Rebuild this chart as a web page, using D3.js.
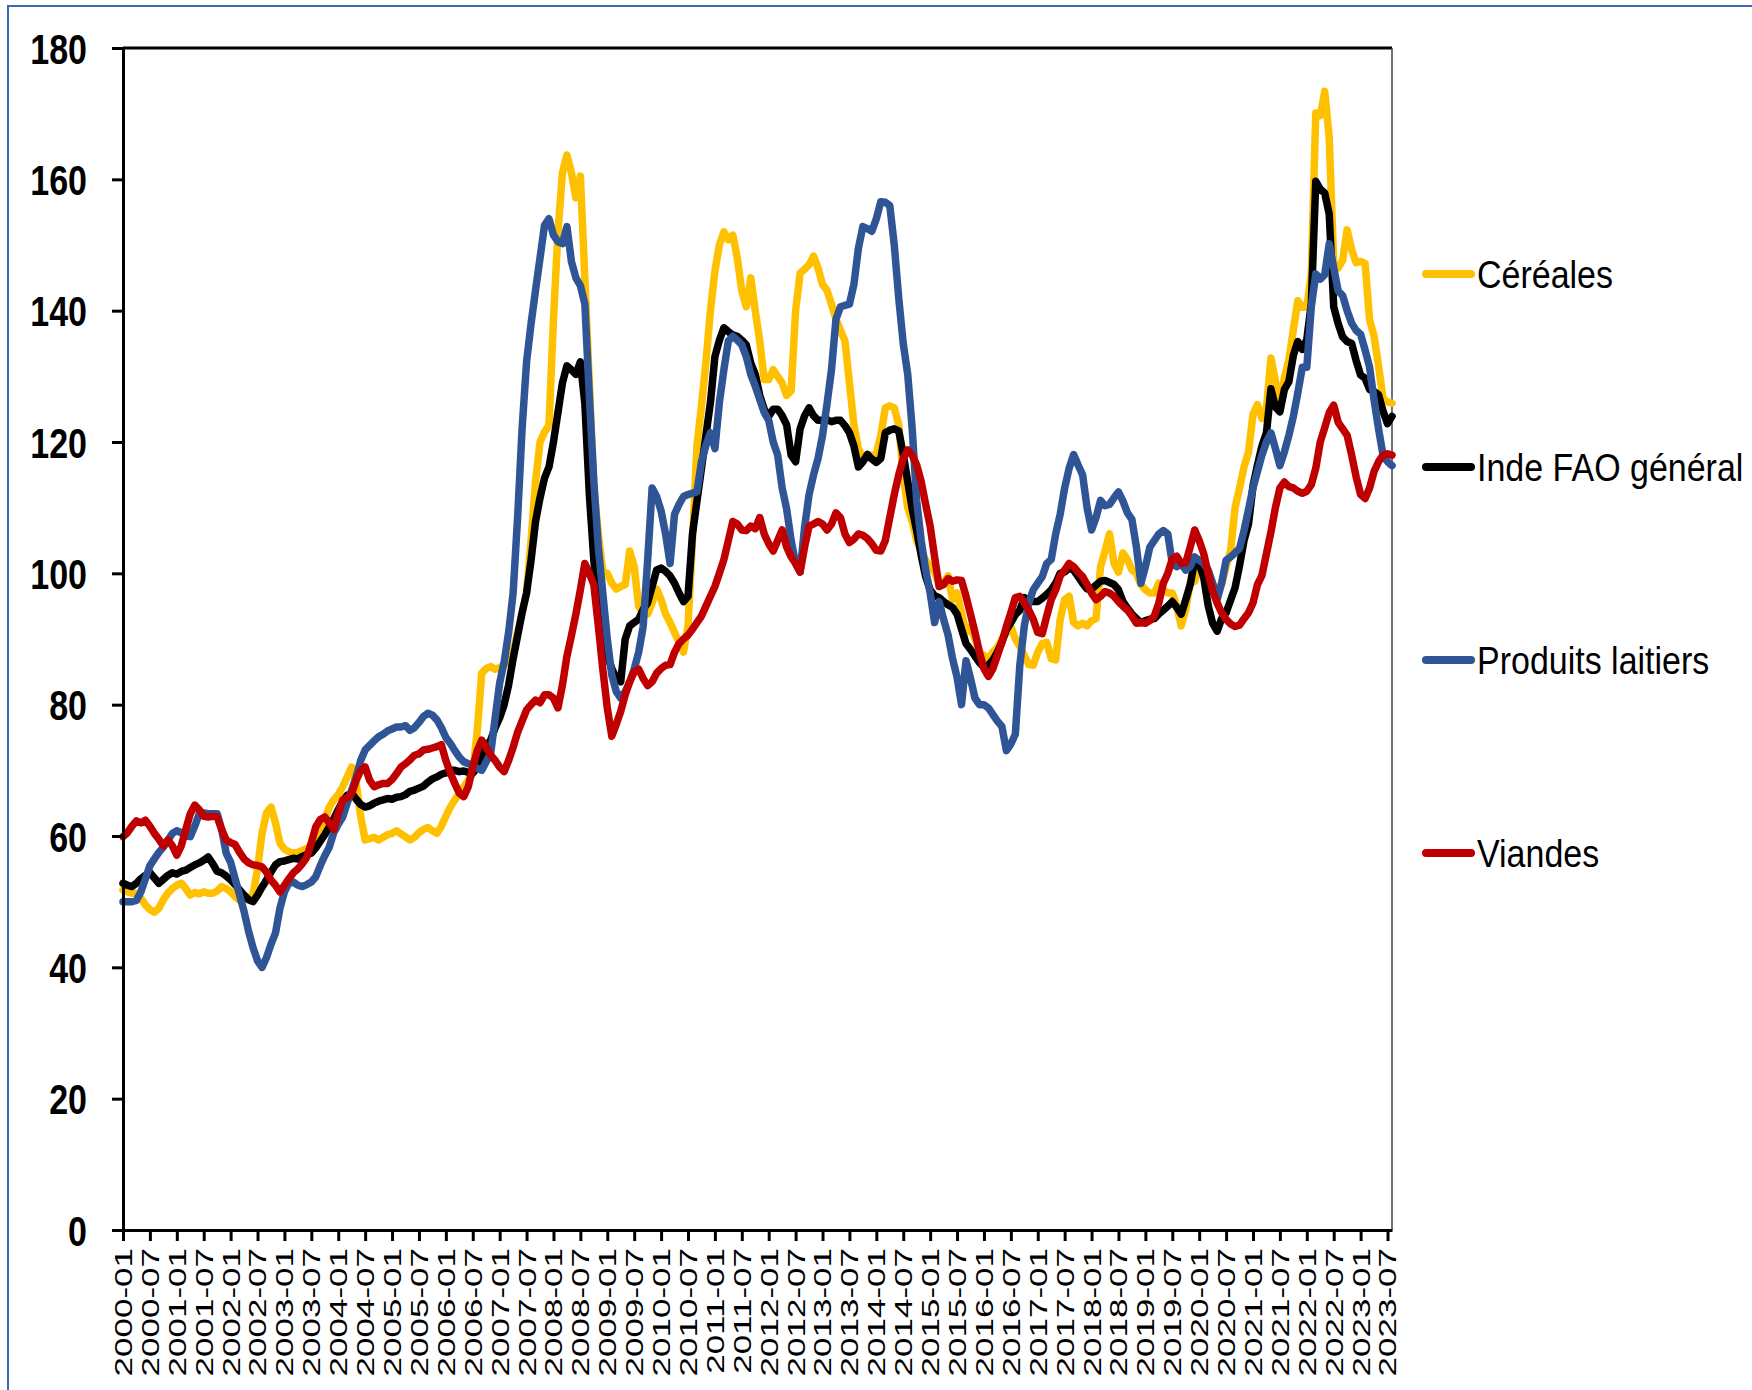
<!DOCTYPE html>
<html lang="fr">
<head>
<meta charset="utf-8">
<title>Indices FAO des prix alimentaires</title>
<script src="https://cdn.jsdelivr.net/npm/d3@7"></script>
<style>
  html, body { margin: 0; padding: 0; background: #fff; }
  svg { display: block; }
  text { font-family: "Liberation Sans", Arial, sans-serif; }
</style>
</head>
<body>
<div id="chart"></div>
<script>
// categories : mois de 2000-01 a 2023-08
var mois = [];
for (var a = 2000; a <= 2023; a++) {
  for (var m = 1; m <= 12; m++) {
    if (a === 2023 && m > 8) break;
    mois.push(a + "-" + (m < 10 ? "0" + m : m));
  }
}
// une etiquette tous les six mois
var etiquettesX = mois.filter(function(d, i) { return i % 6 === 0; });
var graduationsY = [0, 20, 40, 60, 80, 100, 120, 140, 160, 180];

// series (une ligne par annee)
var cereales = [
  51.8, 51.5, 51.3, 51.3, 50.5, 49.5, 48.8, 48.4, 49.0, 50.3, 51.3, 52.0,
  52.5, 52.8, 52.0, 51.0, 51.4, 51.2, 51.5, 51.3, 51.3, 51.6, 52.3, 52.0,
  51.5, 50.8, 50.2, 50.3, 50.6, 51.0, 55.0, 60.4, 63.5, 64.4, 62.0, 58.9,
  58.0, 57.6, 57.4, 57.5, 57.8, 58.1, 58.3, 59.5, 61.0, 62.5, 64.4, 65.5,
  66.3, 67.5, 69.0, 70.5, 68.0, 63.0, 59.4, 59.6, 59.8, 59.4, 59.8, 60.2,
  60.4, 60.8, 60.3, 59.9, 59.4, 59.8, 60.5, 61.0, 61.3, 60.8, 60.4, 61.5,
  63.0, 64.4, 65.5, 66.5, 67.5, 68.5, 69.6, 76.0, 84.8, 85.5, 85.8, 85.4,
  85.6, 86.1, 86.5, 88.0, 91.0, 94.0, 97.0, 105.0, 114.0, 120.0, 121.5, 122.6,
  138.7, 152.0, 161.0, 163.7, 161.0, 157.2, 160.5, 145.0, 129.0, 113.0, 106.0, 100.2,
  100.0, 98.5, 97.6, 98.0, 98.3, 103.4, 101.0, 95.0, 93.8, 93.8, 95.5, 97.6,
  96.0, 93.8, 92.5, 91.0, 89.5, 88.0, 92.0, 105.0, 119.4, 125.5, 132.2, 140.0,
  146.0, 150.0, 152.0, 150.8, 151.5, 148.0, 143.0, 140.6, 145.0, 140.0, 135.4, 129.5,
  129.5, 131.0, 130.0, 129.0, 127.1, 127.8, 140.0, 145.7, 146.3, 147.0, 148.3, 146.5,
  144.0, 143.1, 141.0, 138.7, 137.0, 135.4, 129.0, 122.6, 119.0, 117.5, 117.8, 118.0,
  118.1, 121.0, 125.2, 125.5, 125.2, 122.6, 115.0, 110.0, 107.9, 105.0, 103.4, 102.0,
  101.0, 100.2, 98.3, 98.5, 99.6, 96.0, 97.0, 94.0, 91.0, 91.9, 90.0, 88.0,
  87.5, 87.0, 88.0, 88.7, 90.0, 90.9, 91.9, 90.0, 88.9, 87.5, 86.1, 86.0,
  88.0, 89.3, 89.5, 87.0, 86.8, 93.0, 96.0, 96.5, 92.5, 92.0, 92.4, 92.0,
  92.8, 93.1, 101.0, 103.4, 106.0, 101.5, 100.2, 103.1, 102.1, 100.5, 100.0, 98.3,
  97.5, 97.0, 97.0, 98.5, 97.5, 97.0, 97.0, 95.0, 92.0, 94.5, 98.5, 98.8,
  101.0, 99.6, 98.5, 98.3, 97.5, 98.3, 101.0, 103.4, 110.0, 113.0, 116.2, 118.5,
  124.2, 125.7, 123.6, 125.1, 132.8, 129.3, 125.5, 129.8, 132.5, 137.1, 141.5, 140.5,
  140.6, 145.5, 170.1, 169.7, 173.4, 166.3, 147.3, 146.5, 147.7, 152.3, 149.3, 147.3,
  147.5, 147.2, 138.6, 136.1, 131.6, 126.6, 126.1, 125.9
];

var indiceGeneral = [
  52.8, 52.5, 52.3, 52.8, 53.5, 54.0, 54.4, 53.6, 52.8, 53.4, 54.0, 54.4,
  54.2, 54.6, 54.8, 55.2, 55.6, 55.9, 56.3, 56.8, 55.8, 54.6, 54.4, 53.9,
  53.3, 52.6, 51.8, 51.0, 50.3, 50.0, 51.0, 52.2, 53.3, 54.5, 55.6, 56.1,
  56.2, 56.4, 56.6, 56.5, 56.9, 57.2, 57.4, 58.2, 59.2, 60.2, 61.4, 62.6,
  64.0, 65.3, 66.2, 66.5, 65.6, 64.8, 64.4, 64.6, 65.0, 65.3, 65.5, 65.7,
  65.6, 65.9, 66.0, 66.3, 66.8, 67.0, 67.3, 67.6, 68.2, 68.7, 69.0, 69.4,
  69.6, 70.0, 70.0, 69.8, 69.9, 69.7, 69.6, 70.4, 72.0, 73.6, 74.6, 76.5,
  78.0, 80.0, 83.0, 87.0, 90.5, 94.0, 97.0, 102.0, 107.9, 111.5, 114.5, 116.2,
  120.0, 124.5, 129.0, 131.6, 131.0, 130.3, 132.2, 125.8, 112.0, 102.0, 94.5, 90.0,
  87.5, 85.5, 84.0, 83.5, 90.0, 92.0, 92.5, 93.0, 94.5, 95.5, 98.0, 100.5,
  100.8, 100.3, 99.6, 98.5, 97.0, 95.7, 96.5, 106.0, 111.0, 116.0, 121.0, 126.0,
  133.0, 135.5, 137.4, 136.8, 136.3, 136.1, 135.5, 134.8, 132.0, 130.3, 127.1, 125.0,
  123.9, 125.0, 125.0, 124.0, 122.6, 118.0, 117.0, 122.0, 124.0, 125.2, 124.0, 123.3,
  123.3, 123.4, 123.1, 123.3, 123.3, 122.5, 121.4, 119.4, 116.2, 117.0, 118.1, 117.4,
  116.9, 117.5, 121.4, 121.8, 122.0, 121.7, 118.1, 114.0, 109.8, 106.5, 102.8, 99.5,
  97.5, 96.6, 96.3, 95.7, 95.2, 94.8, 93.8, 91.5, 89.3, 88.4, 87.4, 86.4,
  85.7, 86.0, 86.8, 88.0, 89.5, 91.4, 92.5, 93.7, 94.4, 96.3, 96.0, 95.7,
  95.7, 96.2, 96.8, 97.5, 98.5, 100.0, 100.2, 100.8, 100.5, 99.5, 98.5, 97.6,
  97.6, 98.2, 98.8, 98.9, 98.6, 98.3, 97.5, 95.7, 94.7, 93.8, 93.1, 92.5,
  92.8, 93.0, 93.1, 93.8, 94.4, 95.0, 95.7, 94.8, 93.8, 96.0, 98.3, 102.0,
  101.5, 99.4, 95.1, 92.4, 91.2, 93.1, 94.0, 95.9, 97.8, 101.2, 105.0, 107.5,
  113.3, 116.5, 119.4, 121.4, 128.1, 125.3, 124.6, 128.0, 129.2, 133.2, 135.3, 134.1,
  135.6, 141.1, 159.7, 158.5, 157.9, 154.7, 140.6, 138.0, 136.0, 135.3, 135.0, 132.4,
  130.2, 129.7, 128.0, 127.7, 127.2, 124.7, 122.8, 123.9
];

var laitiers = [
  50.0, 50.0, 50.0, 50.2, 51.5, 53.5, 55.5, 56.5, 57.5, 58.3, 59.3, 60.4,
  60.8, 60.5, 60.0, 59.9, 61.5, 63.4, 63.5, 63.4, 63.4, 63.4, 61.0, 57.4,
  56.0, 53.5, 51.0, 48.5, 45.5, 43.0, 41.0, 40.0, 41.5, 43.5, 45.2, 49.0,
  51.5, 52.8, 53.0, 52.5, 52.3, 52.6, 53.0, 53.8, 55.5, 57.0, 58.3, 60.5,
  61.8, 62.9, 65.0, 67.0, 69.0, 71.5, 73.1, 73.8, 74.5, 75.1, 75.5, 76.0,
  76.3, 76.6, 76.6, 76.8, 76.1, 76.5, 77.3, 78.2, 78.7, 78.4, 77.7, 76.5,
  75.0, 74.1, 73.0, 72.0, 71.3, 71.0, 70.8, 70.3, 70.0, 71.3, 72.6, 78.0,
  83.3, 86.5, 91.0, 97.0, 108.5, 122.0, 132.2, 138.0, 143.1, 148.0, 153.0, 154.0,
  151.5, 150.5, 150.2, 152.8, 147.5, 145.0, 143.8, 141.0, 127.0, 114.0, 104.0, 97.0,
  90.0, 84.5, 82.0, 81.0, 82.0, 83.5, 85.4, 88.0, 91.9, 102.0, 113.0, 111.7,
  109.5, 106.0, 101.5, 109.0, 110.5, 111.7, 112.0, 112.2, 112.4, 117.0, 119.5, 121.4,
  119.0, 126.0, 131.0, 135.4, 136.1, 135.5, 134.8, 133.0, 130.3, 128.5, 126.5, 124.5,
  123.3, 120.0, 118.0, 113.0, 109.8, 105.0, 101.5, 100.2, 107.0, 112.0, 115.0, 117.5,
  121.0, 125.8, 131.0, 138.7, 140.6, 140.8, 141.0, 144.0, 149.5, 152.8, 152.5, 152.1,
  154.0, 156.6, 156.5, 156.0, 150.0, 141.9, 135.0, 130.3, 122.0, 111.0, 105.0, 100.5,
  97.0, 92.5, 95.7, 93.0, 90.6, 87.0, 84.2, 80.0, 86.7, 84.0, 81.0, 80.0,
  80.0, 79.5, 78.5, 77.5, 76.7, 73.0, 74.0, 75.5, 86.0, 92.0, 95.5, 97.5,
  98.5, 99.5, 101.5, 102.1, 106.0, 109.0, 113.0, 116.0, 118.1, 116.5, 115.0, 110.0,
  106.6, 108.5, 111.1, 110.3, 110.5, 111.5, 112.4, 111.0, 109.2, 108.2, 104.0, 98.5,
  101.0, 104.0, 105.0, 106.0, 106.5, 106.0, 101.5, 101.0, 101.5, 100.5, 101.0, 102.5,
  102.0, 101.5, 100.5, 98.5, 96.0, 98.5, 102.0, 102.5, 103.1, 103.8, 106.5, 109.7,
  113.0, 115.5, 118.0, 120.0, 121.4, 119.0, 116.4, 118.5, 121.0, 123.9, 127.5, 131.4,
  131.4, 140.6, 145.6, 144.8, 145.5, 150.2, 146.5, 143.0, 142.3, 140.0, 138.1, 137.0,
  136.4, 134.0, 131.4, 126.4, 122.0, 118.0, 117.0, 116.4
];

var viandes = [
  59.9, 60.5, 61.5, 62.3, 62.0, 62.4, 61.5, 60.4, 59.5, 58.5, 59.4, 58.5,
  57.1, 58.5, 61.0, 63.4, 64.7, 64.0, 63.0, 62.9, 63.0, 62.9, 61.0, 59.4,
  59.0, 58.7, 57.5, 56.5, 55.9, 55.6, 55.5, 55.3, 54.5, 53.3, 52.5, 51.5,
  52.5, 53.5, 54.4, 55.0, 55.8, 56.8, 59.0, 61.4, 62.5, 62.9, 62.0, 61.0,
  63.5, 65.5, 65.8, 66.5, 68.5, 70.0, 70.5, 68.5, 67.5, 67.8, 68.0, 68.0,
  68.6, 69.5, 70.5, 71.0, 71.6, 72.3, 72.5, 73.1, 73.2, 73.4, 73.6, 73.9,
  71.5, 69.6, 68.0, 66.5, 66.0, 67.5, 70.5, 73.0, 74.6, 73.5, 72.3, 71.5,
  70.5, 69.8, 71.5, 73.5, 75.8, 77.5, 79.2, 80.0, 80.7, 80.3, 81.5, 81.5,
  81.0, 79.5, 83.0, 87.4, 90.5, 93.8, 97.5, 101.5, 100.0, 98.3, 92.0, 85.4,
  79.5, 75.2, 77.0, 79.0, 81.5, 83.5, 85.0, 85.4, 84.0, 82.9, 83.5, 84.8,
  85.5, 86.0, 86.1, 88.0, 89.3, 90.0, 90.6, 91.5, 92.5, 93.5, 95.0, 96.5,
  98.0, 100.0, 102.1, 105.0, 107.9, 107.5, 106.6, 106.5, 107.2, 106.8, 108.5, 106.0,
  104.5, 103.4, 105.0, 106.6, 104.0, 102.5, 101.5, 100.2, 104.0, 107.2, 107.5, 107.9,
  107.5, 106.6, 107.5, 109.2, 108.5, 106.0, 104.7, 105.2, 106.0, 105.8, 105.3, 104.5,
  103.5, 103.4, 105.0, 108.5, 112.0, 115.0, 117.5, 118.8, 118.0, 116.5, 114.0, 110.5,
  107.2, 102.5, 98.0, 98.3, 99.2, 98.8, 99.0, 98.9, 96.5, 93.8, 91.0, 88.0,
  85.5, 84.3, 85.5, 87.5, 89.5, 91.9, 94.0, 96.3, 96.5, 95.5, 94.4, 93.0,
  91.0, 90.8, 93.5, 96.0, 97.5, 99.6, 100.5, 101.5, 101.0, 100.2, 99.5, 98.3,
  97.0, 96.0, 96.5, 97.2, 97.0, 96.5, 95.7, 95.0, 94.4, 93.5, 92.4, 92.5,
  92.4, 92.8, 93.5, 95.5, 98.5, 100.0, 102.2, 102.6, 101.5, 101.6, 104.0, 106.6,
  105.0, 103.0, 100.0, 97.3, 95.5, 94.0, 93.0, 92.3, 91.9, 92.1, 93.1, 94.0,
  95.5, 98.3, 99.7, 103.0, 106.3, 110.0, 113.0, 113.9, 113.2, 113.0, 112.5, 112.2,
  112.5, 113.5, 116.0, 120.0, 122.2, 124.5, 125.6, 123.0, 122.0, 121.0, 118.0, 114.7,
  112.0, 111.4, 113.0, 115.5, 117.0, 118.0, 118.2, 118.0
];

var series = [
  { nom: "Céréales", valeurs: cereales, couleur: "#FFC000" },
  { nom: "Inde FAO général", valeurs: indiceGeneral, couleur: "#000000" },
  { nom: "Produits laitiers", valeurs: laitiers, couleur: "#2F5597" },
  { nom: "Viandes", valeurs: viandes, couleur: "#C00000" }
];

var largeur = 1752, hauteur = 1390;
var zone = { gauche: 123, droite: 1392, haut: 48, bas: 1230 };

var svg = d3.select("#chart").append("svg")
  .attr("width", largeur)
  .attr("height", hauteur);

// cadre bleu autour de l'image
svg.append("rect")
  .attr("x", 8).attr("y", 6)
  .attr("width", 1800).attr("height", 1450)
  .attr("fill", "none")
  .attr("stroke", "#3E67B1")
  .attr("stroke-width", 2);

var x = d3.scalePoint().domain(mois).range([zone.gauche, zone.droite]);
var y = d3.scaleLinear().domain([0, 180]).range([zone.bas, zone.haut]);

// bord haut et droit de la zone de trace
svg.append("line")
  .attr("x1", zone.gauche).attr("x2", zone.droite)
  .attr("y1", zone.haut).attr("y2", zone.haut)
  .attr("stroke", "#000").attr("stroke-width", 3);
svg.append("line")
  .attr("x1", zone.droite).attr("x2", zone.droite)
  .attr("y1", zone.haut).attr("y2", zone.bas)
  .attr("stroke", "#444").attr("stroke-width", 1.5);

// les courbes
var ligne = d3.line()
  .x(function(d, i) { return x(mois[i]); })
  .y(function(d) { return y(d); });

svg.append("g").selectAll("path")
  .data(series)
  .enter().append("path")
    .attr("d", function(s) { return ligne(s.valeurs); })
    .attr("fill", "none")
    .attr("stroke", function(s) { return s.couleur; })
    .attr("stroke-width", 7.5)
    .attr("stroke-linejoin", "round")
    .attr("stroke-linecap", "round");

// axe y
var axeY = svg.append("g")
  .attr("transform", "translate(" + zone.gauche + ",0)")
  .call(d3.axisLeft(y).tickValues(graduationsY).tickSize(11).tickSizeOuter(0));
axeY.select(".domain").attr("stroke-width", 3);
axeY.selectAll(".tick line").attr("stroke-width", 3);
axeY.selectAll(".tick text")
  .attr("x", 0).attr("y", 0).attr("dy", null)
  .attr("text-anchor", "end")
  .attr("transform", "translate(-36,15) scale(1,1.23)")
  .attr("fill", "#000")
  .style("font-size", "34px")
  .style("font-weight", "bold")
  .style("font-family", "'Liberation Sans', Arial, sans-serif");

// axe x
var axeX = svg.append("g")
  .attr("transform", "translate(0," + zone.bas + ")")
  .call(d3.axisBottom(x).tickValues(etiquettesX).tickSize(11).tickSizeOuter(0));
axeX.select(".domain").attr("stroke-width", 3);
axeX.selectAll(".tick line").attr("stroke-width", 3);
axeX.selectAll(".tick text")
  .attr("x", 0).attr("y", 0).attr("dy", "0.36em")
  .attr("text-anchor", "end")
  .attr("transform", "translate(0,18) rotate(-90) scale(1.49,1)")
  .attr("fill", "#000")
  .style("font-size", "23.5px")
  .style("font-family", "'Liberation Sans', Arial, sans-serif");

// legende
var legendeY = [274, 467, 660, 853];
var legende = svg.append("g").selectAll("g")
  .data(series)
  .enter().append("g")
    .attr("transform", function(s, i) { return "translate(1422," + legendeY[i] + ")"; });
legende.append("line")
  .attr("x1", 4).attr("x2", 49)
  .attr("stroke", function(s) { return s.couleur; })
  .attr("stroke-width", 8)
  .attr("stroke-linecap", "round");
legende.append("text")
  .attr("transform", "translate(55,13.5) scale(1,1.12)")
  .style("font-size", "34px")
  .attr("fill", "#000")
  .text(function(s) { return s.nom; });
</script>
</body>
</html>
